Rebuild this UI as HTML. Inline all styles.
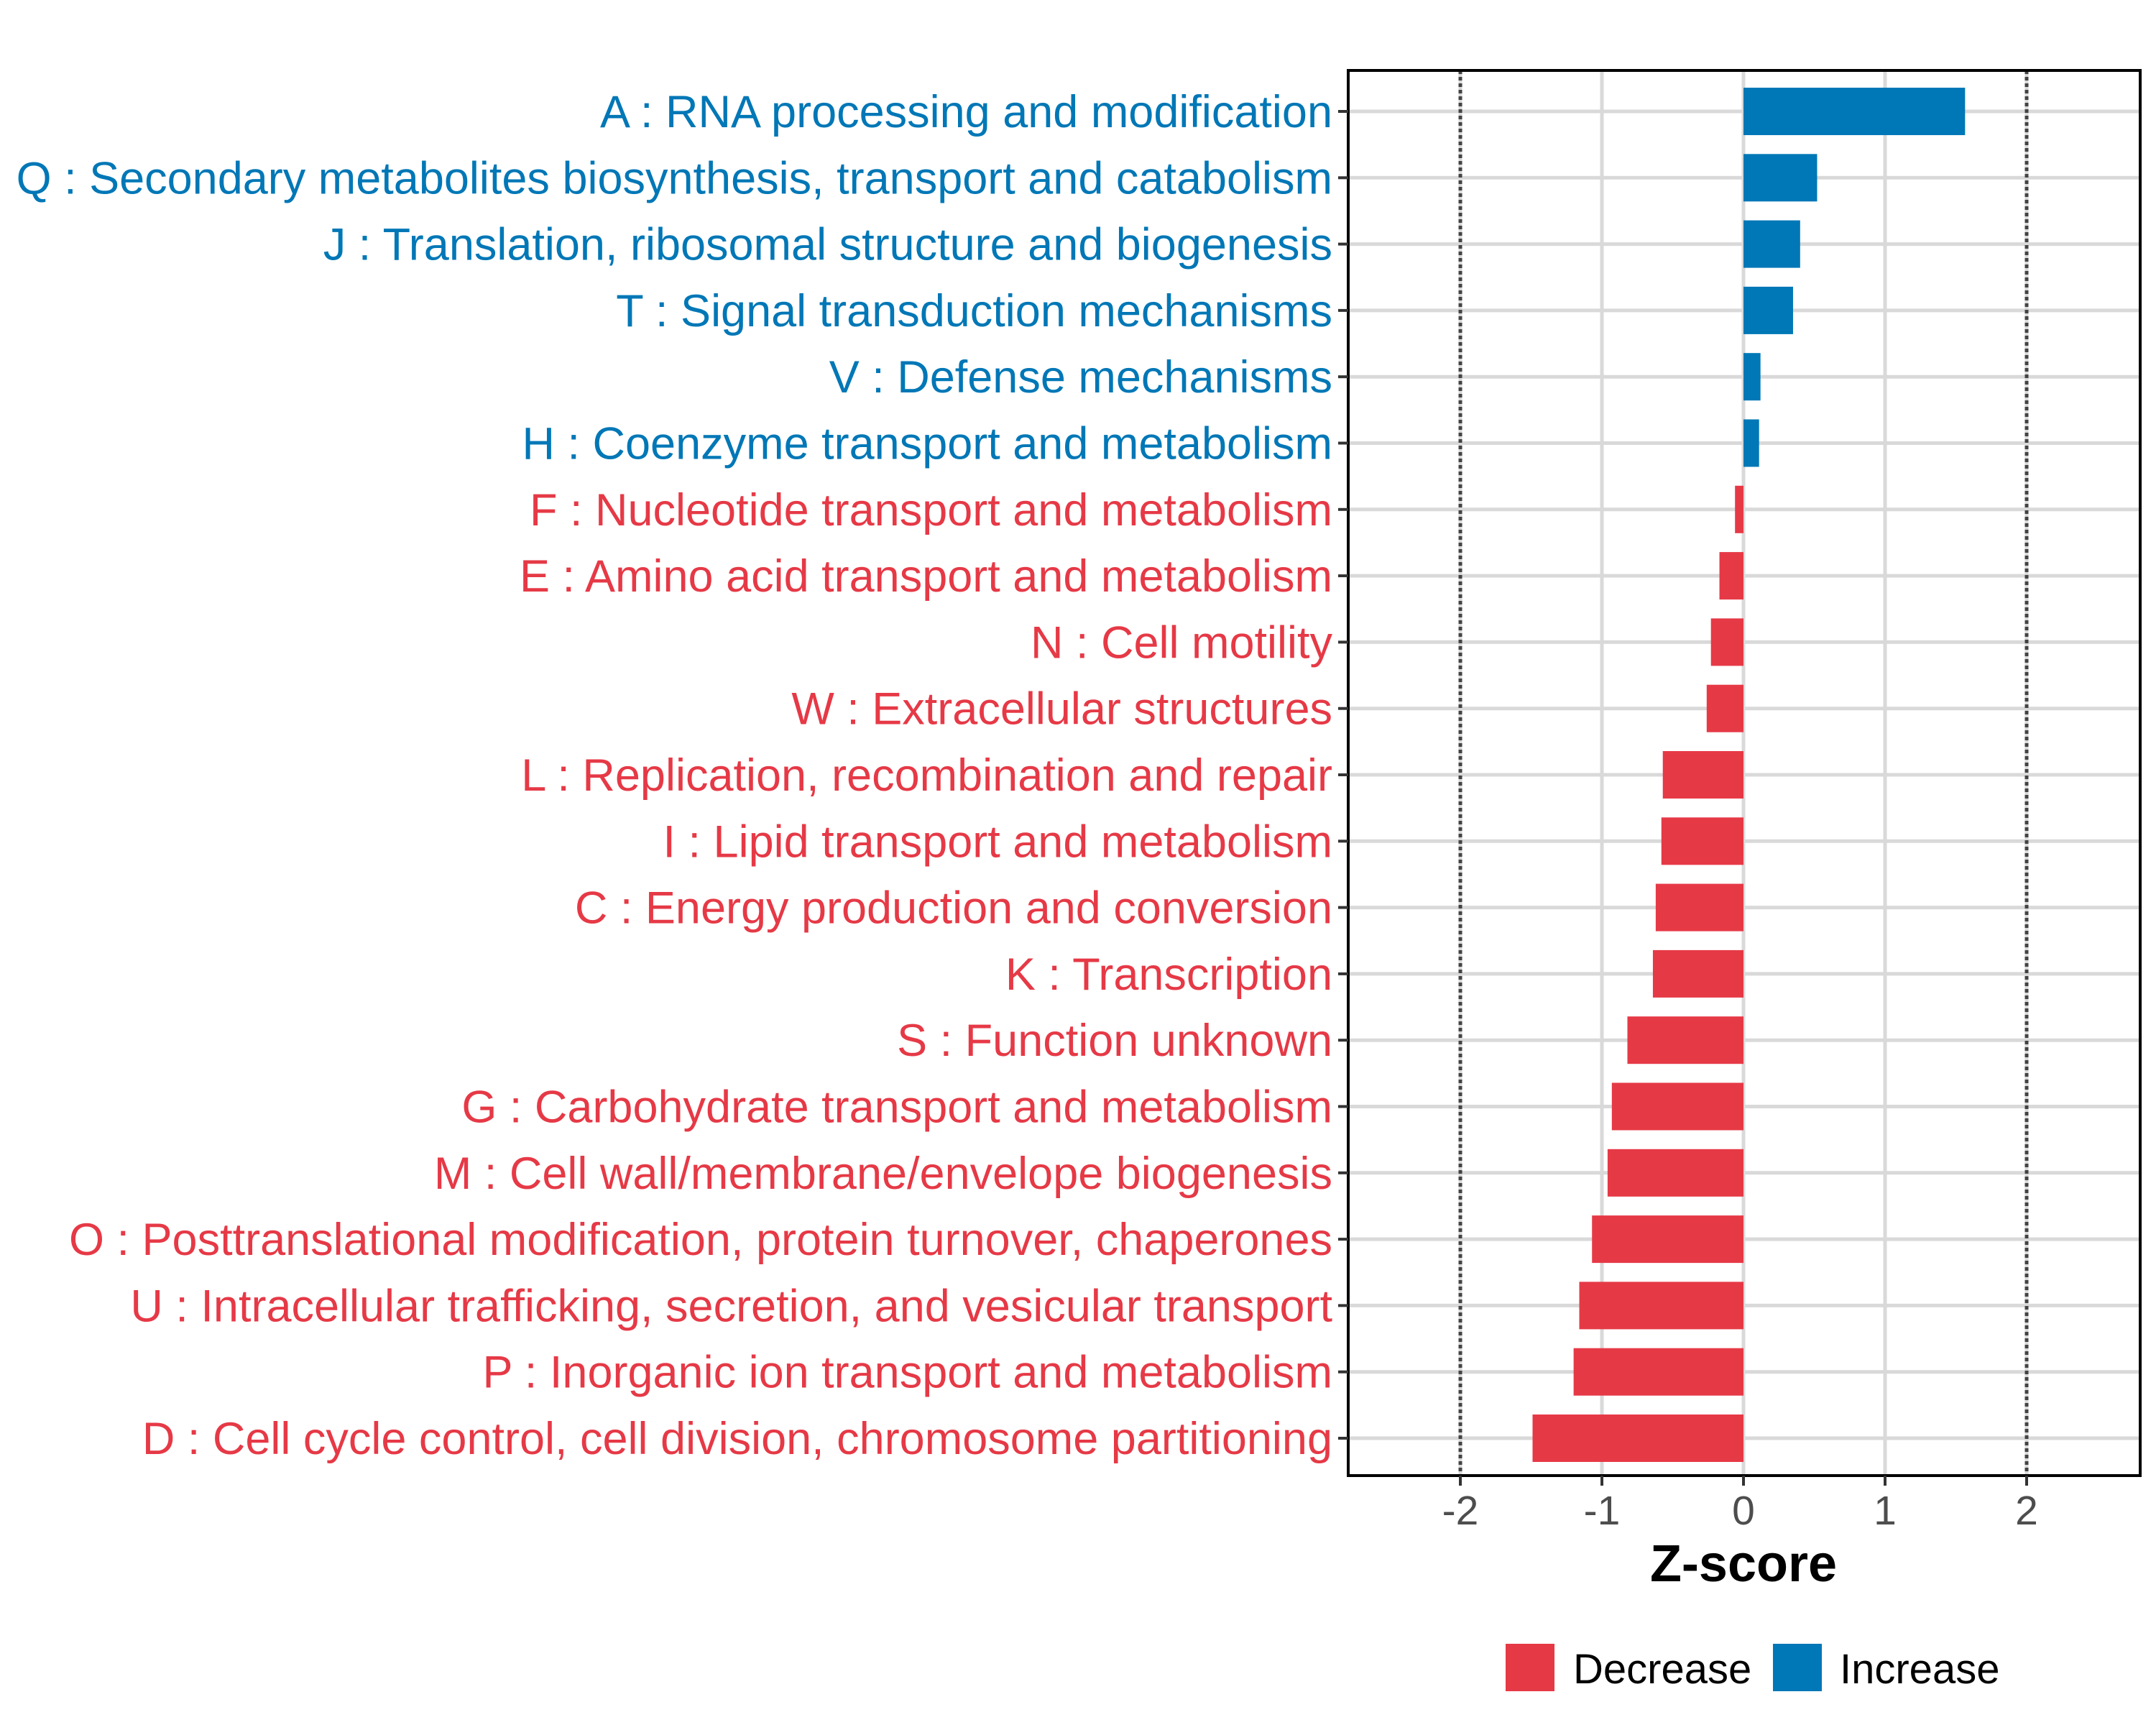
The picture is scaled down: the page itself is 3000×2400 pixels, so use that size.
<!DOCTYPE html>
<html><head><meta charset="utf-8"><style>
html,body{margin:0;padding:0;background:#fff;}
svg{display:block;font-family:"Liberation Sans",Arial,sans-serif;}
</style></head><body>
<svg id="chart" width="3000" height="2400" viewBox="0 0 3000 2400" xmlns="http://www.w3.org/2000/svg">
<rect width="3000" height="2400" fill="#fff"/>
<g id="grid"></g><g id="bars"></g><g id="axes"></g><g id="labels"></g>
<text x="2426" y="2200" text-anchor="middle" font-size="72" font-weight="bold" fill="#000">Z-score</text>
<g>
<rect x="2095" y="2287" width="68" height="66" fill="#E63946"/>
<text x="2189" y="2342" font-size="58" fill="#000">Decrease</text>
<rect x="2467" y="2287" width="68" height="66" fill="#0077B6"/>
<text x="2560" y="2342" font-size="58" fill="#000">Increase</text>
</g>
</svg>
<script>
const categories = ["A : RNA processing and modification","Q : Secondary metabolites biosynthesis, transport and catabolism","J : Translation, ribosomal structure and biogenesis","T : Signal transduction mechanisms","V : Defense mechanisms","H : Coenzyme transport and metabolism","F : Nucleotide transport and metabolism","E : Amino acid transport and metabolism","N : Cell motility","W : Extracellular structures","L : Replication, recombination and repair","I : Lipid transport and metabolism","C : Energy production and conversion","K : Transcription","S : Function unknown","G : Carbohydrate transport and metabolism","M : Cell wall/membrane/envelope biogenesis","O : Posttranslational modification, protein turnover, chaperones","U : Intracellular trafficking, secretion, and vesicular transport","P : Inorganic ion transport and metabolism","D : Cell cycle control, cell division, chromosome partitioning"];
const zscores = [1.565,0.52,0.40,0.35,0.12,0.11,-0.06,-0.17,-0.23,-0.26,-0.57,-0.58,-0.62,-0.64,-0.82,-0.93,-0.96,-1.07,-1.16,-1.20,-1.49];
const xTicks = [-2,-1,0,1,2];
const xTickLabels = ["-2","-1","0","1","2"];
const refLines = [-2,2];

const NS="http://www.w3.org/2000/svg";
const P={l:1876,r:2978,t:98,b:2053};
const xMin=-2.792,xMax=2.802;
const xs=v=>P.l+(v-xMin)/(xMax-xMin)*(P.r-P.l);
const rowTop=155,rowStep=(2001-155)/20;
const ys=i=>rowTop+i*rowStep;
const barH=66;
const RED="#E63946",BLUE="#0077B6";
function mk(tag,attrs,parent){const e=document.createElementNS(NS,tag);for(const k in attrs)e.setAttribute(k,attrs[k]);parent.appendChild(e);return e;}
const grid=document.getElementById('grid'),bars=document.getElementById('bars'),axes=document.getElementById('axes'),labels=document.getElementById('labels');
categories.forEach((c,i)=>{const g=mk('line',{x1:P.l,x2:P.r,y1:ys(i),y2:ys(i),stroke:'#d9d9d9','stroke-width':5},grid);

});
xTicks.forEach(t=>{const g=mk('line',{x1:xs(t),x2:xs(t),y1:P.t,y2:P.b,stroke:'#d9d9d9','stroke-width':5},grid);

});
zscores.forEach((v,i)=>{const x0=xs(0),x1=xs(v);
const r=mk('rect',{x:Math.min(x0,x1),y:ys(i)-barH/2,width:Math.abs(x1-x0),height:barH,fill:v>=0?BLUE:RED},bars);

});
refLines.forEach(t=>{const l=mk('line',{x1:xs(t),x2:xs(t),y1:P.t,y2:P.b,stroke:'#444','stroke-width':5,'stroke-dasharray':'5 4'},axes);

});
const br=mk('rect',{x:P.l,y:P.t,width:P.r-P.l,height:P.b-P.t,fill:'none',stroke:'#000','stroke-width':4},axes);


xTicks.forEach((t,k)=>{const tk=mk('line',{x1:xs(t),x2:xs(t),y1:P.b,y2:P.b+14,stroke:'#333','stroke-width':4},axes);


const tx=mk('text',{x:xs(t),y:P.b+68,'text-anchor':'middle','font-size':57,fill:'#4d4d4d'},axes);
tx.textContent=xTickLabels[k];

});
categories.forEach((c,i)=>{const tk=mk('line',{x1:P.l-14,x2:P.l,y1:ys(i),y2:ys(i),stroke:'#333','stroke-width':4},axes);


const t=mk('text',{x:1854,y:ys(i)+22,'text-anchor':'end','font-size':63,fill:zscores[i]>=0?BLUE:RED},labels);
t.textContent=c;

});
</script>
</body></html>
